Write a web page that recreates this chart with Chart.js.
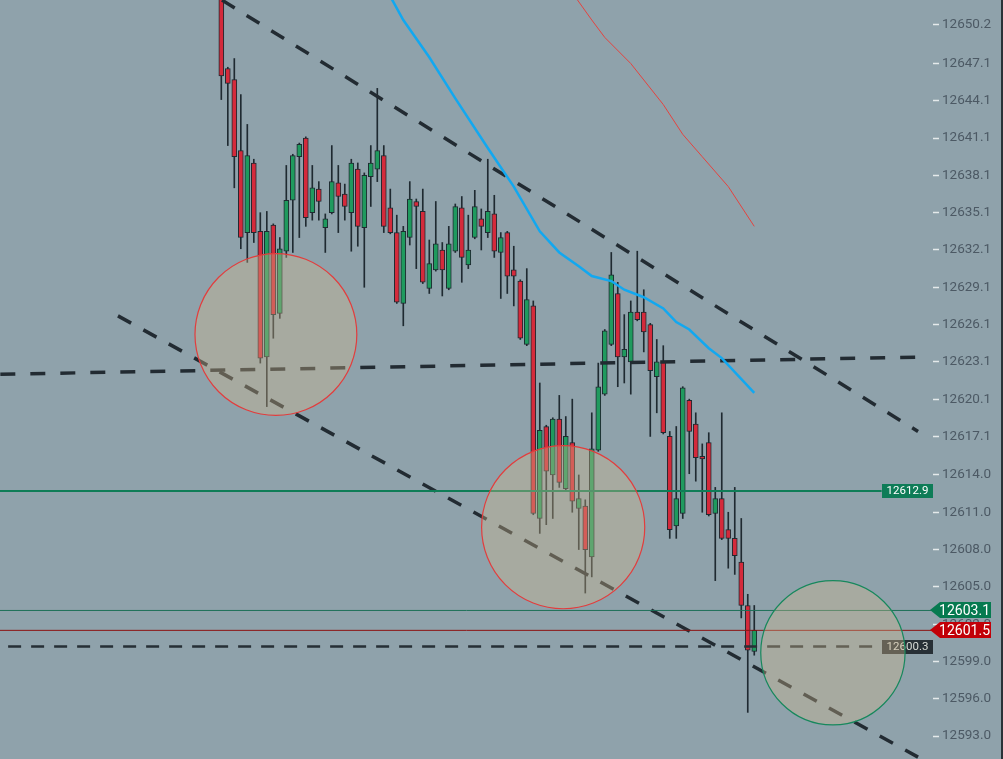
<!DOCTYPE html>
<html>
<head>
<meta charset="utf-8">
<script src="https://cdn.jsdelivr.net/npm/chart.js@4.4.1/dist/chart.umd.min.js"></script>
<style>
  html, body { margin: 0; padding: 0; background: #8fa2ab; }
  .chart-box { width: 1003px; height: 759px; position: relative; }
</style>
</head>
<body>
<div class="chart-box"><canvas id="priceChart"></canvas></div>
<script>
// candles, oldest first
const opens = [12653.0, 12646.7, 12645.8, 12640.1, 12633.5, 12639.1, 12633.6, 12623.5, 12634.1, 12627.0,
  12632.0, 12636.1, 12639.6, 12641.1, 12635.1, 12637.0, 12633.9, 12635.1, 12637.5, 12636.6,
  12635.1, 12638.6, 12633.9, 12638.0, 12638.6, 12639.7, 12635.5, 12633.5, 12627.8, 12633.1,
  12636.0, 12635.2, 12629.0, 12630.5, 12632.1, 12629.0, 12632.0, 12635.5, 12630.9, 12633.1,
  12634.6, 12633.5, 12635.0, 12631.9, 12633.5, 12630.5, 12629.6, 12624.5, 12627.6, 12610.5,
  12617.9, 12614.0, 12618.5, 12612.9, 12616.6, 12611.3, 12611.5, 12607.4, 12616.0, 12620.5,
  12624.5, 12628.6, 12623.5, 12623.1, 12627.1, 12627.1, 12626.1, 12621.9, 12623.1, 12617.1,
  12609.9, 12610.9, 12620.0, 12618.1, 12615.5, 12616.6, 12610.9, 12612.1, 12609.6, 12608.9,
  12607.0, 12603.5, 12599.8];
const highs = [12654.0, 12646.8, 12647.5, 12644.6, 12642.2, 12639.4, 12635.1, 12635.2, 12634.2, 12633.1,
  12638.9, 12639.8, 12640.7, 12641.2, 12638.9, 12637.6, 12635.0, 12640.5, 12638.9, 12637.4,
  12639.4, 12639.1, 12638.3, 12640.5, 12645.1, 12640.5, 12637.0, 12634.9, 12634.0, 12637.6,
  12636.2, 12637.0, 12632.9, 12636.0, 12632.7, 12634.0, 12635.8, 12636.4, 12634.9, 12636.9,
  12635.4, 12639.4, 12636.5, 12633.5, 12633.6, 12632.4, 12629.7, 12630.6, 12628.0, 12621.4,
  12618.0, 12618.6, 12620.4, 12618.7, 12620.1, 12614.0, 12612.0, 12619.0, 12623.0, 12625.7,
  12631.9, 12629.5, 12626.9, 12628.0, 12632.0, 12628.9, 12626.2, 12624.9, 12624.4, 12617.5,
  12617.9, 12621.1, 12620.1, 12619.0, 12616.5, 12617.4, 12613.0, 12619.0, 12611.0, 12613.0,
  12610.5, 12604.4, 12603.5];
const lows = [12644.2, 12640.5, 12637.1, 12632.2, 12631.1, 12632.7, 12623.0, 12619.5, 12625.0, 12626.6,
  12631.5, 12631.9, 12633.1, 12634.0, 12634.5, 12634.5, 12631.9, 12635.0, 12633.5, 12634.5,
  12632.0, 12632.4, 12629.1, 12635.6, 12637.6, 12633.5, 12633.4, 12627.8, 12626.0, 12632.5,
  12630.6, 12629.4, 12628.6, 12630.4, 12628.4, 12628.9, 12631.9, 12629.5, 12630.6, 12633.0,
  12632.1, 12633.1, 12631.5, 12628.2, 12628.6, 12627.6, 12624.9, 12624.4, 12610.8, 12609.3,
  12610.0, 12610.5, 12613.0, 12612.8, 12611.0, 12608.0, 12604.5, 12605.8, 12615.9, 12620.4,
  12624.4, 12621.1, 12621.4, 12620.5, 12626.4, 12623.9, 12617.1, 12619.0, 12617.3, 12608.9,
  12608.9, 12610.5, 12614.1, 12613.5, 12611.0, 12610.7, 12605.5, 12608.8, 12606.5, 12606.0,
  12602.5, 12594.9, 12599.5];
const closes = [12646.1, 12645.5, 12639.6, 12633.1, 12639.7, 12633.5, 12623.4, 12633.6, 12626.9, 12632.2,
  12636.1, 12639.7, 12640.6, 12634.7, 12637.1, 12636.0, 12634.6, 12637.6, 12636.4, 12635.6,
  12639.1, 12634.0, 12638.1, 12639.1, 12640.1, 12634.0, 12633.5, 12627.9, 12633.6, 12636.2,
  12635.6, 12629.5, 12631.0, 12632.6, 12630.5, 12632.6, 12635.6, 12631.5, 12632.1, 12635.6,
  12634.0, 12635.2, 12632.0, 12633.1, 12630.0, 12630.0, 12625.0, 12628.1, 12610.9, 12617.6,
  12614.3, 12618.5, 12613.4, 12617.1, 12611.9, 12612.1, 12608.0, 12616.1, 12621.1, 12625.6,
  12630.1, 12623.5, 12624.1, 12627.1, 12626.5, 12625.5, 12622.4, 12623.1, 12617.4, 12609.6,
  12612.1, 12621.0, 12617.5, 12615.4, 12615.3, 12610.8, 12612.1, 12608.9, 12608.9, 12607.5,
  12603.5, 12599.9, 12601.5];

// price axis
const tickValues = [12593.0, 12596.0, 12599.0, 12602.0, 12605.0, 12608.0, 12611.0, 12614.0, 12617.1, 12620.1,
  12623.1, 12626.1, 12629.1, 12632.1, 12635.1, 12638.1, 12641.1, 12644.1, 12647.1, 12650.2];
const tickLabels = ['12593.0', '12596.0', '12599.0', '12602.0', '12605.0', '12608.0', '12611.0', '12614.0', '12617.1', '12620.1',
  '12623.1', '12626.1', '12629.1', '12632.1', '12635.1', '12638.1', '12641.1', '12644.1', '12647.1', '12650.2'];

// moving averages (candle index, price)
const blueMaX = [26, 28, 32, 36, 41, 45, 49, 52, 55, 57, 60, 62, 65, 68, 70, 72, 75, 77, 82];
const blueMaY = [12652.5, 12650.6, 12647.6, 12644.3, 12640.3, 12637.2, 12633.6, 12631.9, 12630.8, 12630.0,
  12629.6, 12628.9, 12628.3, 12627.4, 12626.3, 12625.7, 12624.2, 12623.4, 12620.6];
const redMaX = [54, 57, 59, 63, 68, 71, 74, 78, 82];
const redMaY = [12652.8, 12650.6, 12649.2, 12647.1, 12643.8, 12641.4, 12639.6, 12637.2, 12634.0];

// drawn lines: [index, price] end points
const upperTrend = [[0.1, 12652.2], [107.2, 12617.5]];
const lowerTrend = [[-15.9, 12626.8], [107.2, 12591.3]];
const flatTrend = [[-34.0, 12622.1], [109.0, 12623.5]];
const supportLine = [[-32.8, 12600.2], [101.6, 12600.2]];

// price levels
const levelValues = [12612.7, 12603.1, 12601.5, 12600.2];
const levelLabels = ['12612.9', '12603.1', '12601.5', '12600.3'];

// circles: centre index, centre price, radius in candles
const circleX = [8.4, 52.6, 94.1];
const circleY = [12625.3, 12609.8, 12599.7];
const circleR = [12.45, 12.55, 11.1];
const circleColors = ['#e23d3d', '#e23d3d', '#17885c'];

const X_MIN = -34.05;
const X_MAX = 109.5;

const UP = '#1f9a5e';
const DOWN = '#d42a3b';
const EDGE = '#1f2a31';

const wickData = highs.map((h, i) => ({ x: i, y: [lows[i], h] }));
const bodyData = opens.map((o, i) => ({ x: i, y: [o, closes[i]] }));
const bodyColors = opens.map((o, i) => closes[i] >= o ? UP : DOWN);

const seg = (pts) => pts.map(p => ({ x: p[0], y: p[1] }));
const flat = (v, x0, x1) => [{ x: x0, y: v }, { x: x1, y: v }];

function lineSet(data, color, width, dash, order) {
    return {
        type: 'line',
        data: data,
        borderColor: color,
        borderWidth: width,
        borderDash: dash || [],
        pointRadius: 0,
        tension: 0,
        order: order
    };
}

const overlayPlugin = {
    id: 'overlay',
    afterDatasetsDraw(chart) {
        const { ctx, scales: { x, y } } = chart;
        ctx.save();

        // boxes sitting on the chart
        const boxes = [[0, '#0e7c57', '#ffffff'], [3, '#283036', '#d8dbd6']];
        boxes.forEach(([k, fill, text]) => {
            const yc = y.getPixelForValue(levelValues[k]);
            ctx.fillStyle = fill;
            ctx.fillRect(882, Math.round(yc) - 7, 51, 14);
            ctx.fillStyle = text;
            ctx.font = '11.5px Roboto';
            ctx.textAlign = 'center';
            ctx.textBaseline = 'middle';
            ctx.fillText(levelLabels[k], 907.5, Math.round(yc) + 0.5);
        });

        // circles
        circleX.forEach((cx, i) => {
            const px = x.getPixelForValue(cx);
            const py = y.getPixelForValue(circleY[i]);
            const r = x.getPixelForValue(cx + circleR[i]) - px;
            ctx.beginPath();
            ctx.arc(px, py, r, 0, Math.PI * 2);
            ctx.fillStyle = 'rgba(210, 186, 140, 0.36)';
            ctx.fill();
            ctx.lineWidth = 1.2;
            ctx.strokeStyle = circleColors[i];
            ctx.stroke();
        });
        ctx.restore();
    },
    afterDraw(chart) {
        const { ctx, scales: { y } } = chart;
        ctx.save();
        const tags = [[1, '#067a50'], [2, '#c20008']];
        tags.forEach(([k, fill]) => {
            const yc = Math.round(y.getPixelForValue(levelValues[k]));
            ctx.beginPath();
            ctx.moveTo(930, yc);
            ctx.lineTo(940, yc - 8);
            ctx.lineTo(991, yc - 8);
            ctx.lineTo(991, yc + 8);
            ctx.lineTo(940, yc + 8);
            ctx.closePath();
            ctx.fillStyle = fill;
            ctx.fill();
            ctx.fillStyle = '#ffffff';
            ctx.font = '14px Roboto';
            ctx.textAlign = 'right';
            ctx.textBaseline = 'middle';
            ctx.fillText(levelLabels[k], 990, yc + 1);
        });
        ctx.fillStyle = '#2a3238';
        ctx.fillRect(1001, 0, 2, 759);
        ctx.restore();
    }
};

const ctx = document.getElementById('priceChart');
new Chart(ctx, {
    type: 'bar',
    data: {
        datasets: [
            {
                data: wickData,
                backgroundColor: EDGE,
                barThickness: 1,
                grouped: false,
                order: 3
            },
            {
                data: bodyData,
                backgroundColor: bodyColors,
                borderColor: EDGE,
                borderWidth: 1,
                borderSkipped: false,
                barThickness: 5,
                grouped: false,
                order: 2
            },
            lineSet(flat(levelValues[0], X_MIN, 101.6), '#0f7d57', 2, null, 1),
            lineSet(flat(levelValues[1], X_MIN, X_MAX), '#1d7058', 1, null, 1),
            lineSet(flat(levelValues[2], X_MIN, X_MAX), '#8c1212', 1, null, 1),
            lineSet(seg(supportLine), '#262f36', 2.5, [13, 10], 1),
            lineSet(seg(flatTrend), '#222b32', 3.5, [15, 15], 1),
            lineSet(seg(upperTrend), '#222b32', 3.5, [15, 14], 1),
            lineSet(seg(lowerTrend), '#222b32', 3.5, [15, 14], 1),
            lineSet(blueMaX.map((v, i) => ({ x: v, y: blueMaY[i] })), '#12a8f0', 2.5, null, 0),
            lineSet(redMaX.map((v, i) => ({ x: v, y: redMaY[i] })), '#e4433f', 1, null, 0)
        ]
    },
    options: {
        animation: false,
        responsive: true,
        maintainAspectRatio: false,
        layout: { padding: 0 },
        plugins: {
            legend: { display: false },
            tooltip: { enabled: false }
        },
        scales: {
            x: {
                type: 'linear',
                display: false,
                offset: false,
                min: X_MIN,
                max: X_MAX
            },
            y: {
                position: 'right',
                min: 12591.15,
                max: 12652.21,
                beginAtZero: false,
                border: { display: false },
                grid: {
                    drawOnChartArea: false,
                    tickLength: 6,
                    tickWidth: 1.5,
                    tickColor: '#e4e9eb'
                },
                ticks: {
                    color: '#4c5964',
                    font: { family: 'Roboto', size: 13.5 },
                    padding: 3,
                    callback: (v, i) => tickLabels[i]
                },
                afterBuildTicks: (scale) => {
                    scale.ticks = tickValues.map(v => ({ value: v }));
                },
                afterFit: (scale) => {
                    scale.width = 70;
                    scale.paddingTop = 0;
                    scale.paddingBottom = 0;
                }
            }
        }
    },
    plugins: [overlayPlugin]
});
</script>
</body>
</html>
